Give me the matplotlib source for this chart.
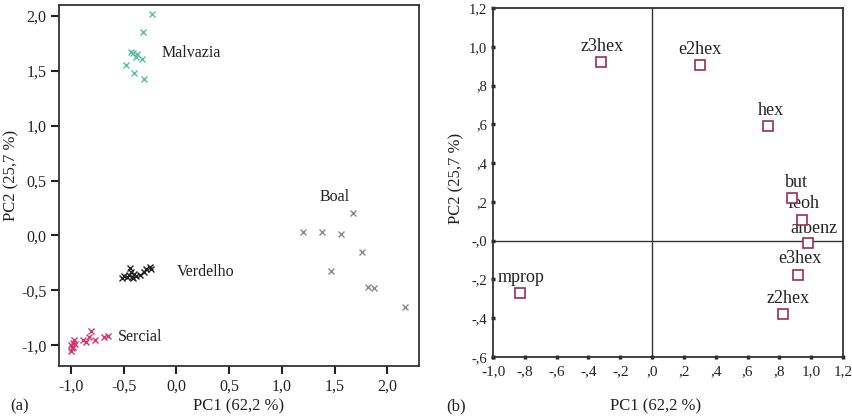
import matplotlib
matplotlib.use("Agg")
import matplotlib.pyplot as plt
from matplotlib.ticker import FixedLocator, FuncFormatter

plt.rcParams["font.family"] = ["Liberation Serif", "DejaVu Serif"]

# (a) scores
malvazia_x = [-0.23, -0.32, -0.41, -0.37, -0.33, -0.48, -0.40, -0.31, -0.43, -0.38]
malvazia_y = [2.02, 1.85, 1.66, 1.65, 1.61, 1.55, 1.48, 1.43, 1.67, 1.63]
boal_x = [1.67, 1.20, 1.38, 1.56, 1.76, 1.47, 1.82, 1.87, 2.17]
boal_y = [0.20, 0.03, 0.03, 0.01, -0.15, -0.32, -0.47, -0.48, -0.65]
verdelho_x = [-0.52, -0.50, -0.47, -0.45, -0.43, -0.42, -0.40, -0.38, -0.35,
              -0.31, -0.29, -0.25, -0.24, -0.44, -0.41]
verdelho_y = [-0.39, -0.37, -0.38, -0.36, -0.33, -0.38, -0.35, -0.37, -0.36,
              -0.33, -0.31, -0.29, -0.31, -0.30, -0.39]
sercial_x = [-1.00, -0.99, -1.00, -0.98, -0.97, -0.89, -0.86, -0.83, -0.81,
             -0.77, -0.69, -0.65, -0.98, -0.96]
sercial_y = [-1.00, -1.03, -1.05, -0.98, -0.95, -0.95, -0.97, -0.93, -0.87,
             -0.95, -0.93, -0.92, -1.02, -0.99]

group_names = ["Malvazia", "Boal", "Verdelho", "Sercial"]
group_label_xy = [(-0.14, 1.66), (1.36, 0.35), (0.0, -0.33), (-0.56, -0.93)]

# (b) loadings
var_names = ["z3hex", "e2hex", "hex", "but", "feoh", "albenz", "e3hex", "z2hex", "mprop"]
load_x = [-0.32, 0.30, 0.73, 0.88, 0.94, 0.98, 0.92, 0.82, -0.83]
load_y = [0.92, 0.905, 0.59, 0.22, 0.105, -0.01, -0.175, -0.38, -0.27]

fig = plt.figure(figsize=(8.53, 4.19), dpi=100)

# ---- panel (a)
ax1 = fig.add_axes([0.0692, 0.1265, 0.422, 0.8616])
colors = ["#5cbfa6", "#8a8a8a", "#222222", "#d8346a"]
for gx, gy, c in zip([malvazia_x, boal_x, verdelho_x, sercial_x],
                     [malvazia_y, boal_y, verdelho_y, sercial_y], colors):
    ax1.plot(gx, gy, linestyle="none", marker="x", markersize=4,
             markeredgewidth=1.0, color=c)
for name, (tx, ty) in zip(group_names, group_label_xy):
    ax1.text(tx, ty, name, fontsize=11.5, ha="left", va="center", color="#222222")

ax1.set_xlim(-1.114, 2.30)
ax1.set_ylim(-1.19, 2.10)
ax1.xaxis.set_major_locator(FixedLocator([-1.0, -0.5, 0.0, 0.5, 1.0, 1.5, 2.0]))
ax1.yaxis.set_major_locator(FixedLocator([-1.0, -0.5, 0.0, 0.5, 1.0, 1.5, 2.0]))
fmt_a = FuncFormatter(lambda v, p: f"{v:.1f}".replace(".", ","))
ax1.xaxis.set_major_formatter(fmt_a)
ax1.yaxis.set_major_formatter(fmt_a)
ax1.tick_params(direction="out", length=6, width=1.5, labelsize=11.5,
                colors="#222222", pad=3)
for s in ax1.spines.values():
    s.set_linewidth(1.3)
    s.set_color("#333333")


# ---- panel (b)
def comma_short(v, p):
    s = f"{v:.1f}".replace(".", ",")
    if s.startswith("0,"):
        s = s[1:]
    elif s.startswith("-0,"):
        s = "-" + s[2:]
    return s


ax2 = fig.add_axes([0.578, 0.148, 0.4103, 0.833])
ax2.axhline(0, color="#333333", lw=1.0, zorder=1)
ax2.axvline(0, color="#333333", lw=1.0, zorder=1)
ax2.plot(load_x, load_y, linestyle="none", marker="s", markersize=7.5,
         markerfacecolor="white", markeredgecolor="#9b2f52", markeredgewidth=1.2,
         zorder=3)
label_offsets = {"z3hex": (1, 11), "e2hex": (0, 11), "hex": (2, 11.5),
                 "but": (3, 11.5), "feoh": (1, 12), "albenz": (4, 10),
                 "e3hex": (1, 11.5), "z2hex": (4, 11.5), "mprop": (1, 11)}
for name, lx, ly in zip(var_names, load_x, load_y):
    ax2.annotate(name, (lx, ly), xytext=label_offsets[name],
                 textcoords="offset points", ha="center", va="center",
                 fontsize=13, color="#222222", zorder=2)

ax2.set_xlim(-1.0, 1.2)
ax2.set_ylim(-0.6, 1.2)
ax2.xaxis.set_major_locator(FixedLocator([-1.0 + 0.2 * i for i in range(12)]))
ax2.yaxis.set_major_locator(FixedLocator([-0.6 + 0.2 * i for i in range(10)]))
ax2.xaxis.set_major_formatter(FuncFormatter(
    lambda v, p: ",0" if abs(v) < 1e-9 else comma_short(v, p)))
ax2.yaxis.set_major_formatter(FuncFormatter(
    lambda v, p: "-,0" if abs(v) < 1e-9 else comma_short(v, p)))
ax2.tick_params(axis="x", direction="inout", length=2.5, width=2.5,
                labelsize=11, colors="#222222", pad=5)
ax2.tick_params(axis="y", direction="inout", length=2.5, width=2.5,
                labelsize=10.5, colors="#222222", pad=3)
for s in ax2.spines.values():
    s.set_linewidth(1.3)
    s.set_color("#333333")

# ---- labels
fig.text(0.280, 0.029, "PC1 (62,2 %)", ha="center", va="center", fontsize=12, color="#222222")
fig.text(0.769, 0.029, "PC1 (62,2 %)", ha="center", va="center", fontsize=12, color="#222222")
fig.text(0.013, 0.582, "PC2 (25,7 %)", ha="center", va="center", rotation=90,
         fontsize=12, color="#222222")
fig.text(0.535, 0.575, "PC2 (25,7 %)", ha="center", va="center", rotation=90,
         fontsize=12, color="#222222")
fig.text(0.012, 0.029, "(a)", ha="left", va="center", fontsize=12, color="#222222")
fig.text(0.523, 0.029, "(b)", ha="left", va="center", fontsize=12, color="#222222")

fig.savefig("out.png", dpi=100)
